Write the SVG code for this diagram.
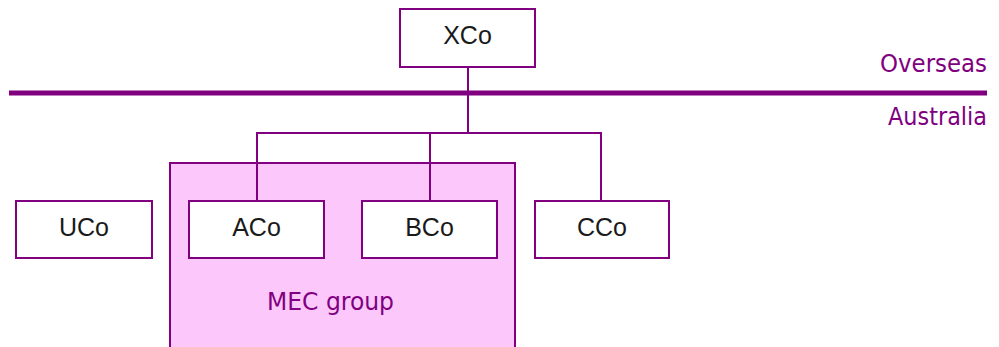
<svg xmlns="http://www.w3.org/2000/svg" width="999" height="347" viewBox="0 0 999 347">
<style>
.box{fill:#fff;stroke:#800080;stroke-width:2}
.lbl{font-family:"Liberation Sans",Arial,sans-serif;font-size:25px;fill:#1a1a1a;text-anchor:middle}
.plbl{font-family:"DejaVu Sans","Open Sans",sans-serif;font-size:24px;fill:#800080}
.conn{fill:none;stroke:#800080;stroke-width:2}
</style>
<rect width="999" height="347" fill="#fff"/>
<g id="mec-group">
<rect x="170" y="163" width="345" height="190" fill="#fcc8fc" stroke="#800080" stroke-width="2"/>
<text class="plbl" x="267" y="310" textLength="127" lengthAdjust="spacingAndGlyphs">MEC group</text>
</g>
<g id="border">
<line x1="9" y1="93" x2="987" y2="93" stroke="#800080" stroke-width="5"/>
<text class="plbl" x="880" y="72" textLength="107" lengthAdjust="spacingAndGlyphs">Overseas</text>
<text class="plbl" x="888" y="125" textLength="99" lengthAdjust="spacingAndGlyphs">Australia</text>
</g>
<g id="connectors">
<path class="conn" d="M468 67 V133 M257 201 V133 H601 V201 M430 133 V201"/>
</g>
<g id="xco"><rect class="box" x="400" y="9" width="135" height="58"/><text class="lbl" x="467.5" y="44">XCo</text></g>
<g id="uco"><rect class="box" x="16" y="201" width="136" height="57"/><text class="lbl" x="84" y="236">UCo</text></g>
<g id="aco"><rect class="box" x="189" y="201" width="135" height="57"/><text class="lbl" x="256.5" y="236">ACo</text></g>
<g id="bco"><rect class="box" x="362" y="201" width="135" height="57"/><text class="lbl" x="429.5" y="236">BCo</text></g>
<g id="cco"><rect class="box" x="535" y="201" width="134" height="57"/><text class="lbl" x="602" y="236">CCo</text></g>
</svg>
